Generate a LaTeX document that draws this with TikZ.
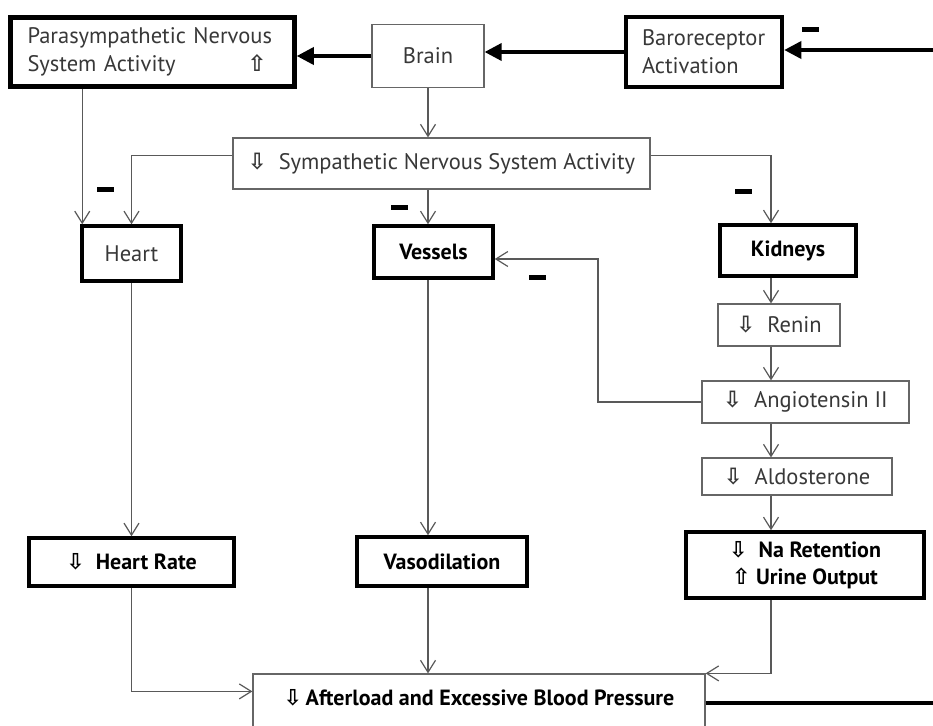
\documentclass[tikz,border=0pt]{standalone}
\usepackage{fontspec}
\setmainfont{PT Sans}
\newfontfamily\arrowfont{DejaVu Sans}
\usetikzlibrary{arrows.meta}
\newcommand{\arrdown}{{\arrowfont\bfseries\char"21E9}}
\newcommand{\arrup}{{\arrowfont\bfseries\char"21E7}}

\begin{document}
\begin{tikzpicture}[x=1pt, y=-1pt,
    thinbox/.style={draw=black!60, line width=1.2pt, fill=white, inner sep=0pt, text=black!78, font=\fontsize{22.5}{28}\selectfont},
    midbox/.style={draw=black, line width=3.5pt, fill=white, inner sep=0pt, text=black!78, font=\fontsize{22.5}{28}\selectfont},
    thickbox/.style={midbox, line width=4.5pt},
    boldtext/.style={text=black, font=\fontsize{22}{27}\selectfont\bfseries},
    link/.style={draw=black!65, line width=1.2pt, -{Straight Barb[length=12pt, width=15pt]}},
    feed/.style={draw=black, line width=3.5pt, -{Triangle[length=17pt, width=17pt]}},
    minus/.style={fill=black, minimum width=17pt, minimum height=5pt, inner sep=0pt}]
\useasboundingbox (0,0) rectangle (933,725);
\fill[white] (0,0) rectangle (933,725);
\begin{scope}
\clip (0,0) rectangle (933,725);

\node[thickbox, minimum width=284pt, minimum height=69pt, text width=250pt, align=left] (para) at (152.5,52) {Parasympathetic Nervous\\System Activity\hskip 0pt plus 1fill\arrup\hspace*{11pt}};
\node[thinbox, minimum width=112pt, minimum height=63pt] (brain) at (428,56) {Brain};
\node[thickbox, minimum width=156pt, minimum height=70pt, text width=124pt, align=left] (baro) at (704,52) {Baroreceptor\\Activation};

\node[thinbox, minimum width=417pt, minimum height=51pt] (symp) at (441.5,163.5) {\arrdown\ \ Sympathetic Nervous System Activity};

\node[midbox, minimum width=99pt, minimum height=55pt] (heart) at (131.5,253.5) {Heart};
\node[midbox, boldtext, minimum width=119pt, minimum height=52pt] (vessels) at (433.5,252) {Vessels};
\node[midbox, boldtext, minimum width=136pt, minimum height=51pt] (kidneys) at (788,250.5) {Kidneys};

\node[thinbox, minimum width=122pt, minimum height=42pt] (renin) at (779,325) {\arrdown\ \ Renin};
\node[thinbox, minimum width=207pt, minimum height=42pt] (angio) at (805.5,402) {\arrdown\ \ Angiotensin II};
\node[thinbox, minimum width=190pt, minimum height=37pt] (aldo) at (797,476.5) {\arrdown\ \ Aldosterone};

\node[midbox, boldtext, minimum width=205pt, minimum height=48pt] (hrate) at (131.5,562) {\arrdown\ \ Heart Rate};
\node[midbox, boldtext, minimum width=170pt, minimum height=49pt] (vaso) at (442,561.5) {Vasodilation};
\node[midbox, boldtext, minimum width=238pt, minimum height=66pt, align=center] (na) at (805,565) {\arrdown\ \ Na Retention\\\arrup\ Urine Output};

\node[thinbox, boldtext, minimum width=452pt, minimum height=62pt, text height=15pt, text depth=15pt] (bottom) at (479,705) {\arrdown\,Afterload and Excessive Blood Pressure};

\coordinate (kcol) at (771,0);
\coordinate (vbend) at (598,259);
\coordinate (loopin) at (933,50);
\coordinate (loopout) at (933,703);

\draw[feed] (loopin) -- (baro.east |- loopin);
\draw[feed] (baro.west) -- (brain.east |- baro.west);
\draw[feed] (brain.west) -- (para.east |- brain.west);

\draw[link] (brain.south) -- (symp.north -| brain.south);
\draw[link] ([xshift=2pt]heart.north west |- para.south) -- ([xshift=2pt]heart.north west);
\draw[link] ([yshift=8pt]symp.west) -| (heart.north);
\draw[link] (symp.south -| brain.south) -- (vessels.north -| brain.south);
\draw[link] ([yshift=8pt]symp.east) -| (kidneys.north -| kcol);
\draw[link] (kidneys.south -| kcol) -- (renin.north -| kcol);
\draw[link] (renin.south -| kcol) -- (angio.north -| kcol);
\draw[link] (angio.south -| kcol) -- (aldo.north -| kcol);
\draw[link] (aldo.south -| kcol) -- (na.north -| kcol);
\draw[link] (angio.west) -| (vbend) -- (vessels.east |- vbend);

\draw[link] (heart.south) -- (hrate.north);
\draw[link] (vessels.south -| brain.south) -- (vaso.north -| brain.south);
\draw[link] (hrate.south) |- ([yshift=-18pt]bottom.north west);
\draw[link] (vaso.south -| brain.south) -- (bottom.north -| brain.south);
\draw[link] (na.south -| kcol) |- (bottom.north east);
\draw[line width=3.5pt] (bottom.east |- loopout) -- (loopout);

\node[minus] (m1) at (105,189) {};
\node[minus] (m2) at (399,207) {};
\node[minus] (m3) at (743,191) {};
\node[minus] (m4) at (537,277) {};
\node[minus] (m5) at (810,30) {};
\end{scope}
\end{tikzpicture}
\end{document}
